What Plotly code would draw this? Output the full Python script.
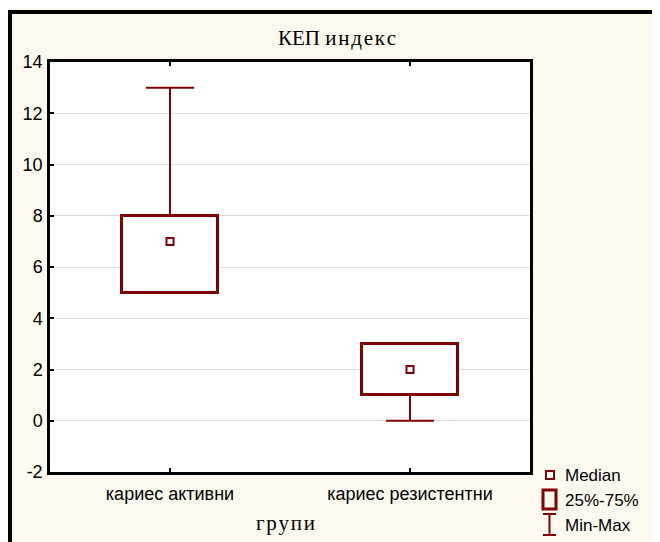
import plotly.graph_objects as go

categories = ["кариес активни", "кариес резистентни"]
q1_vals = [5, 1]
median_vals = [7, 2]
q3_vals = [8, 3]
min_vals = [5, 0]
max_vals = [13, 3]
y_ticks = [-2, 0, 2, 4, 6, 8, 10, 12, 14]
y_tick_text = ["-2", "0", "2", "4", "6", "8", "10", "12", "14"]
title_text = "КЕП и\u200aн\u200aд\u200aе\u200aк\u200aс"
x_title_text = "г\u200aр\u200aу\u200aп\u200aи"

DARK_RED = "#800000"
BG = "#FEF9EE"
OFF = 8  # page body margin
W, H = 660 - OFF, 542 - OFF
# plot area in figure pixels (window pixels minus body margin)
L, R, T, B = 50 - OFF, 530 - OFF, 62 - OFF, 472 - OFF


def px_x(px):
    return (px - OFF - L) / (R - L)


def px_y(py):
    return (B - (py - OFF)) / (B - T)


xs = list(range(len(categories)))
box_w = 0.4
cap_w = 0.2

fig = go.Figure()

# boxes (25%-75%)
fig.add_trace(go.Bar(
    x=xs, y=[q3 - q1 for q1, q3 in zip(q1_vals, q3_vals)], base=q1_vals,
    width=box_w, marker=dict(color="white", line=dict(color=DARK_RED, width=3)),
    showlegend=False, hoverinfo="skip"))

# whiskers (Min-Max)
wx, wy = [], []
for x, q1, q3, mn, mx in zip(xs, q1_vals, q3_vals, min_vals, max_vals):
    wx += [x, x, None, x, x, None, x - cap_w / 2, x + cap_w / 2, None, x - cap_w / 2, x + cap_w / 2, None]
    wy += [q3, mx, None, q1, mn, None, mx, mx, None, mn, mn, None]
fig.add_trace(go.Scatter(x=wx, y=wy, mode="lines", line=dict(color=DARK_RED, width=2),
                         showlegend=False, hoverinfo="skip"))

# medians
fig.add_trace(go.Scatter(x=xs, y=median_vals, mode="markers",
                         marker=dict(symbol="square", size=7, color="white",
                                     line=dict(color=DARK_RED, width=2)),
                         showlegend=False))

shapes = []
# outer black frame (cut at right/bottom)
shapes.append(dict(type="rect", xref="paper", yref="paper",
                   x0=px_x(10), x1=px_x(720), y0=px_y(12), y1=px_y(620),
                   line=dict(color="black", width=4), fillcolor="rgba(0,0,0,0)", layer="below"))
# legend icons
shapes.append(dict(type="rect", xref="paper", yref="paper",
                   x0=px_x(546), x1=px_x(554), y0=px_y(471), y1=px_y(479),
                   line=dict(color=DARK_RED, width=2), fillcolor="white"))
shapes.append(dict(type="rect", xref="paper", yref="paper",
                   x0=px_x(543), x1=px_x(556), y0=px_y(490), y1=px_y(509),
                   line=dict(color=DARK_RED, width=3), fillcolor="rgba(0,0,0,0)"))
for (x0, y0, x1, y1) in [(549.5, 514, 549.5, 535), (543, 514, 556, 514), (543, 535, 556, 535)]:
    shapes.append(dict(type="line", xref="paper", yref="paper",
                       x0=px_x(x0), x1=px_x(x1), y0=px_y(y0), y1=px_y(y1),
                       line=dict(color=DARK_RED, width=2)))

annotations = []
for text, py in [("Median", 475), ("25%-75%", 500), ("Min-Max", 525)]:
    annotations.append(dict(text=text, xref="paper", yref="paper", x=px_x(563), y=px_y(py),
                            xanchor="left", yanchor="middle", showarrow=False,
                            font=dict(family="Liberation Sans, Arial", size=17, color="black")))
annotations.append(dict(text=title_text, xref="paper", yref="paper", x=px_x(337), y=px_y(38),
                        xanchor="center", yanchor="middle", showarrow=False,
                        font=dict(family="Liberation Serif, Times New Roman", size=21, color="black")))
annotations.append(dict(text=x_title_text, xref="paper", yref="paper", x=px_x(285), y=px_y(523),
                        xanchor="center", yanchor="middle", showarrow=False,
                        font=dict(family="Liberation Serif, Times New Roman", size=21, color="black")))

fig.update_layout(
    width=W, height=H,
    margin=dict(l=L, r=W - R, t=T, b=H - B),
    paper_bgcolor=BG, plot_bgcolor="white",
    showlegend=False, bargap=0,
    shapes=shapes, annotations=annotations,
    font=dict(family="Liberation Sans, Arial", size=18, color="black"),
)
fig.update_xaxes(range=[-0.5, len(categories) - 0.5], tickmode="array", tickvals=xs,
                 ticktext=categories, ticks="inside", ticklen=4, tickwidth=1.5, tickcolor="black",
                 showline=True, linewidth=2.5, linecolor="black", mirror="ticks",
                 showgrid=False, zeroline=False, ticklabelstandoff=4,
                 tickfont=dict(family="Liberation Sans, Arial", size=18, color="black"))
fig.update_yaxes(range=[y_ticks[0], y_ticks[-1]], tickmode="array", tickvals=y_ticks,
                 ticktext=y_tick_text,
                 ticks="inside", ticklen=4, tickwidth=1.5, tickcolor="black",
                 showline=True, linewidth=2.5, linecolor="black", mirror=True,
                 showgrid=True, gridcolor="#dcdcdc", gridwidth=1, zeroline=False,
                 ticklabelstandoff=1,
                 tickfont=dict(family="Liberation Sans, Arial", size=18, color="black"))

fig.write_html("out.html")
